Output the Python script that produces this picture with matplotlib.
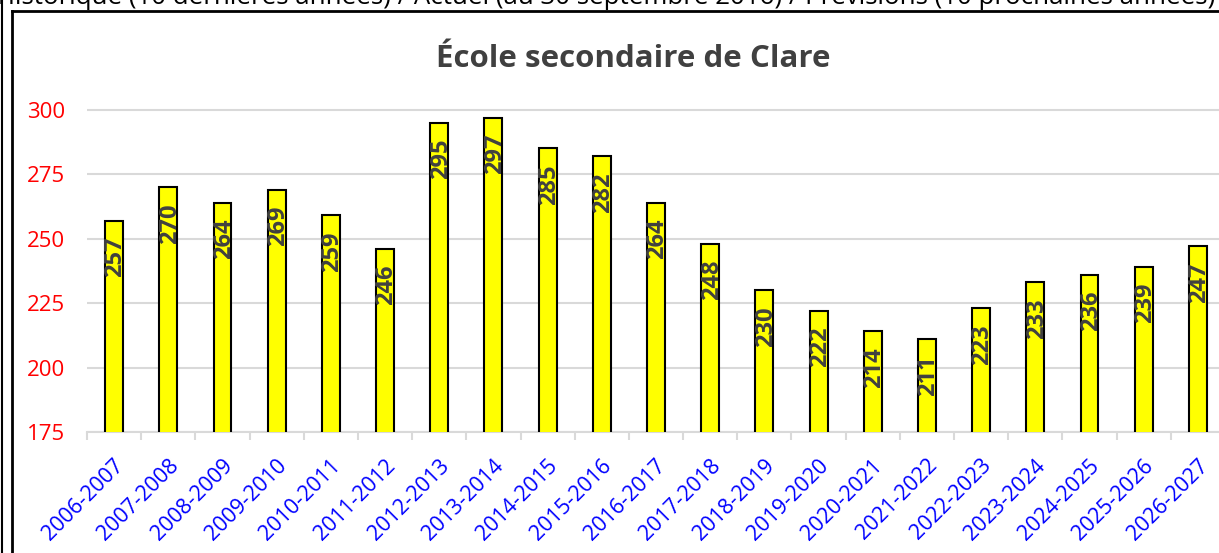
import numpy as np
import matplotlib.pyplot as plt
from matplotlib.lines import Line2D
from matplotlib.transforms import ScaledTranslation

plt.rcParams['font.family'] = ['Open Sans', 'DejaVu Sans']

# Data
years = ["2006-2007", "2007-2008", "2008-2009", "2009-2010", "2010-2011",
         "2011-2012", "2012-2013", "2013-2014", "2014-2015", "2015-2016",
         "2016-2017", "2017-2018", "2018-2019", "2019-2020", "2020-2021",
         "2021-2022", "2022-2023", "2023-2024", "2024-2025", "2025-2026",
         "2026-2027"]
enrolment = [257, 270, 264, 269, 259, 246, 295, 297, 285, 282, 264,
             248, 230, 222, 214, 211, 223, 233, 236, 239, 247]
y_ticks = [175, 200, 225, 250, 275, 300]

W, H = 1219, 553
fig = plt.figure(figsize=(W / 100, H / 100), dpi=100)

# plot area in pixel coords -> figure fractions
left, right, top, bottom = 87, 1225, 84, 432
ax = fig.add_axes([left / W, 1 - bottom / H, (right - left) / W, (bottom - top) / H])

x = np.arange(len(years))
bars = ax.bar(x, enrolment, width=0.33, color="#FFFF00", edgecolor="black",
              linewidth=1.5, zorder=3)

# value labels inside the top of each bar
for xi, v in zip(x, enrolment):
    ax.annotate(str(v), (xi, v), xytext=(1, -11.5), textcoords="offset points",
                rotation=90, ha="center", va="top", fontsize=17,
                fontweight="bold", color="#404040", zorder=4)

ax.set_xlim(-0.5, len(years) - 0.5)
ax.set_ylim(175, 310)
ax.set_yticks(y_ticks)
ax.yaxis.grid(True, color="#d9d9d9", linewidth=1.5, zorder=0)
ax.set_axisbelow(True)

for s in ["top", "right", "left"]:
    ax.spines[s].set_visible(False)
ax.spines["bottom"].set_color("#d9d9d9")
ax.spines["bottom"].set_linewidth(1.5)

ax.tick_params(axis="y", length=0, pad=16, labelsize=16, labelcolor="#FF0000")

# labels at centers, tick marks at boundaries
ax.set_xticks(x)
ax.set_xticklabels(years)
ax.set_xticks(np.arange(-0.5, len(years), 1), minor=True)
ax.tick_params(axis="x", which="major", length=0, pad=22, labelsize=15.5,
               labelcolor="#0000FF")
ax.tick_params(axis="x", which="minor", length=6, width=1.5, color="#d9d9d9")
shift = ScaledTranslation(5 / 72, 0, fig.dpi_scale_trans)
for lab in ax.get_xticklabels():
    lab.set_rotation(45)
    lab.set_ha("right")
    lab.set_va("center")
    lab.set_rotation_mode("anchor")
    lab.set_transform(lab.get_transform() + shift)

# title
fig.text(633 / W, 1 - 67 / H, "École secondaire de Clare", ha="center",
         va="baseline", fontsize=22.5, fontweight="bold", color="#404040")

# cropped heading at the very top
fig.text(-4 / W, 1 - 4 / H,
         "Historique (10 dernières années) / Actuel (au 30 septembre 2016) / "
         "Prévisions (10 prochaines années)",
         ha="left", va="baseline", fontsize=18.6, color="black")

# chart frame lines
fig.add_artist(Line2D([1.5 / W, 1.5 / W], [0, 1], color="black", linewidth=1.5,
                      transform=fig.transFigure))
fig.add_artist(Line2D([12 / W, 12 / W], [0, 1 - 11 / H], color="black",
                      linewidth=2, transform=fig.transFigure))
fig.add_artist(Line2D([12 / W, 1], [1 - 11 / H, 1 - 11 / H], color="black",
                      linewidth=2, transform=fig.transFigure))

fig.savefig("out.png", dpi=100)
